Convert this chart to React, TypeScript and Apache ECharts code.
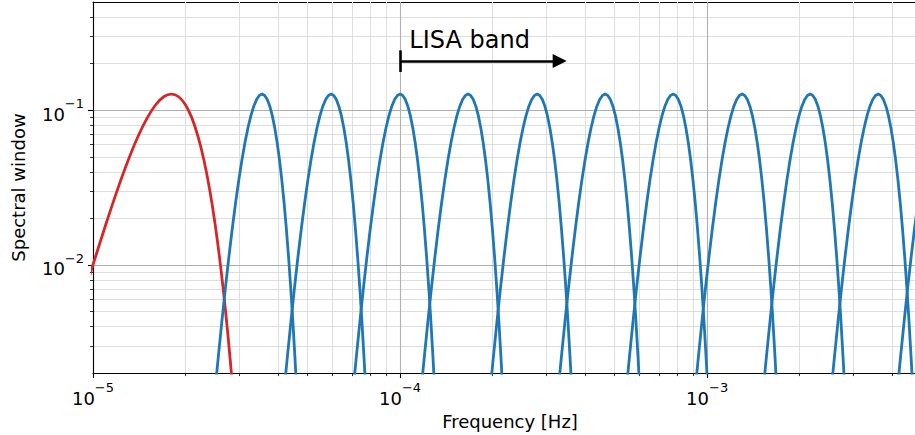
import React, { useEffect, useRef } from "react";
import * as echarts from "echarts";

// ---- axis ranges & ticks ----
const X_MIN = 1e-5;
const X_MAX = 5.2e-3;
const Y_MIN = 0.002;
const Y_MAX = 0.5;
const xMajorTicks = [1e-5, 1e-4, 1e-3];
const xMinorTicks = [
  2e-5, 3e-5, 4e-5, 5e-5, 6e-5, 7e-5, 8e-5, 9e-5,
  2e-4, 3e-4, 4e-4, 5e-4, 6e-4, 7e-4, 8e-4, 9e-4,
  2e-3, 3e-3, 4e-3, 5e-3,
];
const yMajorTicks = [0.01, 0.1];
const yMinorTicks = [
  0.003, 0.004, 0.005, 0.006, 0.007, 0.008, 0.009,
  0.02, 0.03, 0.04, 0.05, 0.06, 0.07, 0.08, 0.09,
  0.2, 0.3, 0.4,
];

// ---- red window (lowest band) ----
const redFreq = [
  0.9e-5, 0.95e-5, 1.0e-5, 1.1e-5, 1.2e-5, 1.3e-5, 1.4e-5, 1.5e-5, 1.6e-5, 1.7e-5,
  1.8e-5, 1.9e-5, 2.0e-5, 2.1e-5, 2.2e-5, 2.3e-5, 2.4e-5, 2.5e-5, 2.6e-5, 2.7e-5,
  2.8e-5, 2.9e-5,
];
const redValue = [
  0.0051, 0.00722, 0.01002, 0.01818, 0.03044, 0.04709, 0.0673, 0.08886, 0.1084, 0.1221,
  0.127, 0.1221, 0.1084, 0.08886, 0.0673, 0.04709, 0.03044, 0.01818, 0.01002, 0.005106,
  0.002402, 0.001044,
];

// ---- blue windows: centre frequencies and common shape (f / f_centre -> value) ----
const bluePeakFreq = [
  3.552e-5, 5.962e-5, 1.0e-4, 1.665e-4, 2.795e-4, 4.654e-4, 7.752e-4, 1.3e-3, 2.165e-3,
  3.606e-3, 5.92e-3,
];
const windowRatio = [
  0.68, 0.7, 0.72, 0.74, 0.76, 0.78, 0.8, 0.82, 0.84, 0.86, 0.88, 0.9, 0.92, 0.94, 0.96,
  0.98, 1.0, 1.02, 1.04, 1.06, 1.08, 1.1, 1.12, 1.14, 1.16, 1.18, 1.2, 1.22, 1.24, 1.26,
  1.28, 1.3, 1.32,
];
const windowValue = [
  0.000759, 0.001411, 0.00252, 0.004324, 0.007129, 0.01129, 0.01719, 0.02513, 0.03531,
  0.04767, 0.06182, 0.07703, 0.09222, 0.1061, 0.1172, 0.1245, 0.127, 0.1245, 0.1172,
  0.1061, 0.09222, 0.07703, 0.06182, 0.04767, 0.03531, 0.02513, 0.01719, 0.01129,
  0.007129, 0.004324, 0.00252, 0.001411, 0.000759,
];

// ---- LISA band annotation ----
const lisaText = "LISA band";
const lisaStartFreq = 1e-4;
const lisaEndFreq = 3.31e-4;
const lisaLevel = 0.2077;
const lisaBarTop = 0.2437;
const lisaBarBottom = 0.1766;
const lisaTextFreq = 1.072e-4;
const lisaTextLevel = 0.283;

const FONT = "DejaVu Sans";
const BLUE = "#1f77b4";
const RED = "#d62728";

const expLabel = (v: number) => {
  const e = Math.round(Math.log10(v));
  return "{b|10}{s|" + (e < 0 ? "\u2212" : "") + Math.abs(e) + "}";
};
const richStyle = {
  b: { fontSize: 18, fontFamily: FONT, color: "#000", lineHeight: 26, verticalAlign: "bottom" },
  s: { fontSize: 13, fontFamily: FONT, color: "#000", lineHeight: 13, verticalAlign: "top" },
};

export default function App() {
  const ref = useRef<HTMLDivElement>(null);
  useEffect(() => {
    if (!ref.current) return;
    const chart = echarts.init(ref.current, undefined, { renderer: "svg" });

    const blueSeries = bluePeakFreq.map((fc, i) => ({
      type: "line",
      name: "band" + i,
      xAxisIndex: 0,
      yAxisIndex: 0,
      data: windowRatio.map((r, j) => [fc * r, windowValue[j]]),
      showSymbol: false,
      symbol: "none",
      clip: true,
      lineStyle: { color: BLUE, width: 2.8 },
      z: 3,
    }));

    const option: any = {
      animation: false,
      backgroundColor: "#fff",
      grid: { left: 93, right: 0, top: 2, bottom: 61, containLabel: false },
      xAxis: [
        {
          type: "log",
          logBase: 10,
          min: X_MIN,
          max: X_MAX,
          position: "bottom",
          name: "Frequency [Hz]",
          nameLocation: "middle",
          nameGap: 38,
          nameTextStyle: { fontFamily: FONT, fontSize: 18, color: "#000" },
          axisLine: { show: true, lineStyle: { color: "#000", width: 1.1 } },
          axisTick: { show: true, length: 5, inside: false, customValues: xMajorTicks, lineStyle: { color: "#000", width: 1.1 } },
          axisLabel: { show: true, margin: 8, customValues: xMajorTicks, formatter: expLabel, rich: richStyle },
          splitLine: { show: true, lineStyle: { color: "#b0b0b0", width: 1.1 } },
          z: 2,
        },
        {
          type: "log",
          logBase: 10,
          min: X_MIN,
          max: X_MAX,
          position: "bottom",
          axisLine: { show: false },
          axisTick: { show: true, length: 3, inside: false, customValues: xMinorTicks, lineStyle: { color: "#000", width: 0.8 } },
          axisLabel: { show: false },
          splitLine: { show: true, lineStyle: { color: "#dedede", width: 1 } },
          z: 1,
        },
        {
          type: "log",
          logBase: 10,
          min: X_MIN,
          max: X_MAX,
          position: "top",
          axisLine: { show: true, lineStyle: { color: "#000", width: 1.1 } },
          axisTick: { show: false },
          axisLabel: { show: false },
          splitLine: { show: false },
        },
      ],
      yAxis: [
        {
          type: "log",
          logBase: 10,
          min: Y_MIN,
          max: Y_MAX,
          position: "left",
          name: "Spectral window",
          nameLocation: "middle",
          nameRotate: 90,
          nameGap: 66,
          nameTextStyle: { fontFamily: FONT, fontSize: 18, color: "#000" },
          axisLine: { show: true, lineStyle: { color: "#000", width: 1.1 } },
          axisTick: { show: true, length: 5, inside: false, customValues: yMajorTicks, lineStyle: { color: "#000", width: 1.1 } },
          axisLabel: { show: true, margin: 9, customValues: yMajorTicks, formatter: expLabel, rich: richStyle },
          splitLine: { show: true, lineStyle: { color: "#b0b0b0", width: 1.1 } },
          z: 2,
        },
        {
          type: "log",
          logBase: 10,
          min: Y_MIN,
          max: Y_MAX,
          position: "left",
          axisLine: { show: false },
          axisTick: { show: true, length: 3, inside: false, customValues: yMinorTicks, lineStyle: { color: "#000", width: 0.8 } },
          axisLabel: { show: false },
          splitLine: { show: true, lineStyle: { color: "#dedede", width: 1 } },
          z: 1,
        },
      ],
      series: [
        {
          type: "line",
          name: "lowest",
          xAxisIndex: 0,
          yAxisIndex: 0,
          data: redFreq.map((f, i) => [f, redValue[i]]),
          showSymbol: false,
          symbol: "none",
          smooth: 0.3,
          clip: true,
          lineStyle: { color: RED, width: 2.8 },
          z: 3,
        },
        ...blueSeries,
        {
          type: "line",
          name: "annotation",
          xAxisIndex: 0,
          yAxisIndex: 0,
          data: [],
          z: 5,
          markLine: {
            silent: true,
            animation: false,
            symbol: "none",
            label: { show: false },
            lineStyle: { color: "#000", width: 2.6, type: "solid" },
            emphasis: { disabled: true },
            data: [
              [
                { coord: [lisaStartFreq, lisaLevel], symbol: "none" },
                { coord: [lisaEndFreq, lisaLevel], symbol: "triangle", symbolSize: 14 },
              ],
              [
                { coord: [lisaStartFreq, lisaBarTop], symbol: "none" },
                { coord: [lisaStartFreq, lisaBarBottom], symbol: "none" },
              ],
            ],
          },
          markPoint: {
            silent: true,
            animation: false,
            symbol: "circle",
            symbolSize: 0,
            itemStyle: { color: "transparent" },
            label: {
              show: true,
              position: "right",
              distance: 0,
              formatter: lisaText,
              fontFamily: FONT,
              fontSize: 24,
              color: "#000",
            },
            data: [{ coord: [lisaTextFreq, lisaTextLevel] }],
          },
        },
      ],
    };
    chart.setOption(option);
    return () => chart.dispose();
  }, []);

  return (
    <div
      style={{ position: "absolute", left: 0, top: 0, width: 915, height: 435, overflow: "hidden", background: "#fff" }}
    >
      <div ref={ref} style={{ width: 927, height: 435 }} />
    </div>
  );
}
